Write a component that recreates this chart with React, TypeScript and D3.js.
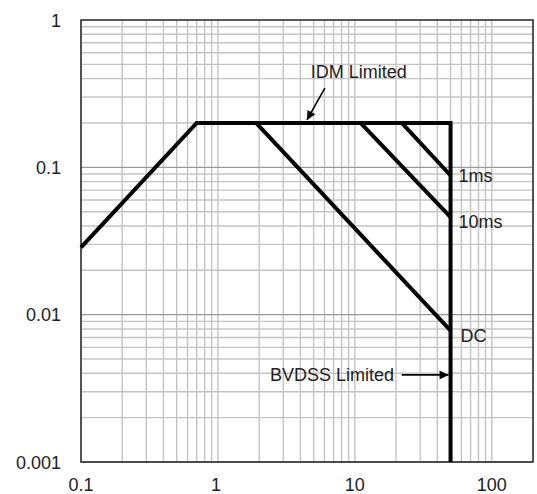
import React from "react";
import * as d3 from "d3";

const W = 537;
const H = 494;

const xTicks = [0.1, 1, 10, 100];
const xTickLabels = ["0.1", "1", "10", "100"];
const yTicks = [0.001, 0.01, 0.1, 1];
const yTickLabels = ["0.001", "0.01", "0.1", "1"];

// Safe operating area boundary (RDS(on) limit, IDM limit, BVDSS limit)
const boundaryX = [0.1, 0.7, 50, 50];
const boundaryY = [0.0286, 0.2, 0.2, 0.001];
// Pulse lines
const dcX = [1.9, 50];
const dcY = [0.2, 0.0078];
const ms10X = [11, 50];
const ms10Y = [0.2, 0.046];
const ms1X = [22, 50];
const ms1Y = [0.2, 0.088];

const curveLabels = ["1ms", "10ms", "DC"];
const curveLabelY = [0.088, 0.046, 0.0078];

export default function App() {
  const x = d3.scaleLog().domain([0.1, 200]).range([81, 533]);
  const y = d3.scaleLog().domain([0.001, 1]).range([462, 20]);

  const line = d3
    .line<[number, number]>()
    .x((d) => x(d[0]))
    .y((d) => y(d[1]));

  const zip = (xs: number[], ys: number[]) =>
    xs.map((v, i) => [v, ys[i]] as [number, number]);

  const vGrid: number[] = [];
  for (const dec of [0.1, 1, 10, 100]) {
    for (let k = 1; k <= 9; k++) {
      const v = dec * k;
      if (v <= 200 + 1e-9) vGrid.push(v);
    }
  }
  const hGrid: number[] = [];
  for (const dec of [0.001, 0.01, 0.1]) {
    for (let k = 1; k <= 9; k++) hGrid.push(dec * k);
  }

  const font = "'Liberation Sans', Arial, sans-serif";
  const [x0, x1] = x.range();
  const [y0, y1] = y.range();

  return (
    <svg
      width={W}
      height={H}
      style={{ position: "absolute", left: 0, top: 0, background: "#fff" }}
      fontFamily={font}
    >
      <defs>
        <marker
          id="ah"
          viewBox="0 0 10 10"
          refX="10"
          refY="5"
          markerWidth="11"
          markerHeight="9"
          markerUnits="userSpaceOnUse"
          orient="auto"
        >
          <path d="M0,0 L10,5 L0,10 Z" fill="#000" />
        </marker>
      </defs>
      <rect x={0} y={0} width={W} height={H} fill="#fff" />
      {vGrid.map((v, i) => (
        <line
          key={"v" + i}
          x1={x(v)}
          x2={x(v)}
          y1={y1}
          y2={y0}
          stroke="#c4c4c4"
          strokeWidth={1.4}
        />
      ))}
      {hGrid.map((v, i) => {
        const major = Math.abs(Math.log10(v) - Math.round(Math.log10(v))) < 1e-6;
        return (
          <line
            key={"h" + i}
            x1={x0}
            x2={x1}
            y1={y(v)}
            y2={y(v)}
            stroke={major ? "#9a9a9a" : "#c4c4c4"}
            strokeWidth={1.4}
          />
        );
      })}
      <rect
        x={x0}
        y={y1}
        width={x1 - x0}
        height={y0 - y1}
        fill="none"
        stroke="#333"
        strokeWidth={1.6}
      />
      {xTicks.map((v, i) => (
        <text
          key={"xt" + i}
          x={x(v) - (i === 1 ? 2 : 0)}
          y={491}
          fontSize={18}
          textAnchor="middle"
          fill="#222"
        >
          {xTickLabels[i]}
        </text>
      ))}
      {yTicks.map((v, i) => (
        <text
          key={"yt" + i}
          x={61}
          y={y(v) + 6.5}
          fontSize={18}
          textAnchor="end"
          fill="#222"
        >
          {yTickLabels[i]}
        </text>
      ))}
      <path
        d={line(zip(boundaryX, boundaryY)) || ""}
        fill="none"
        stroke="#000"
        strokeWidth={4}
        strokeLinejoin="miter"
      />
      {[zip(dcX, dcY), zip(ms10X, ms10Y), zip(ms1X, ms1Y)].map((pts, i) => (
        <path
          key={"c" + i}
          d={line(pts) || ""}
          fill="none"
          stroke="#000"
          strokeWidth={4}
        />
      ))}
      {curveLabels.map((t, i) => (
        <text
          key={"cl" + i}
          x={x(50) + (t === "DC" ? 10 : 8)}
          y={y(curveLabelY[i]) + (i === 0 ? 6 : 11)}
          fontSize={18}
          fill="#222"
        >
          {t}
        </text>
      ))}
      <text x={x(4.77)} y={78} fontSize={18} fill="#222">
        IDM Limited
      </text>
      <line
        x1={x(6.04)}
        y1={y(0.345)}
        x2={x(4.47)}
        y2={y(0.2) - 3}
        stroke="#000"
        strokeWidth={1.6}
        markerEnd="url(#ah)"
      />
      <text x={394} y={381} fontSize={18} textAnchor="end" fill="#222">
        BVDSS Limited
      </text>
      <line
        x1={x(22)}
        y1={y(0.0039)}
        x2={x(50) - 2}
        y2={y(0.0039)}
        stroke="#000"
        strokeWidth={1.6}
        markerEnd="url(#ah)"
      />
    </svg>
  );
}
